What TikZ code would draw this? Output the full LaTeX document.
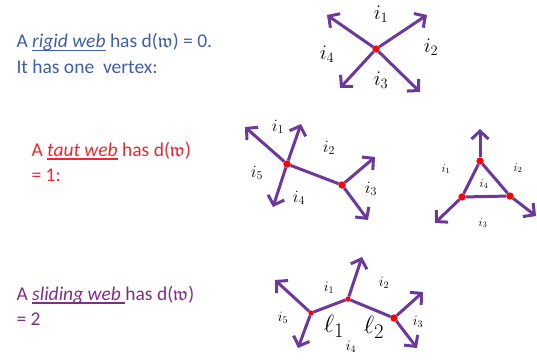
\documentclass[tikz,border=0pt]{standalone}
\usepackage{amsmath,amsfonts}
\usepackage{fontspec}
\setmainfont{Carlito}
\usetikzlibrary{arrows.meta}
\definecolor{webpurple}{RGB}{108,56,156}
\definecolor{rigidblue}{RGB}{62,94,170}
\definecolor{tautred}{RGB}{238,40,44}
\definecolor{slidepurple}{RGB}{128,44,138}
\newcommand{\webline}[1]{\leavevmode\setbox0=\hbox{#1}\rlap{\raisebox{-3.5pt}{\rule{\wd0}{1.5pt}}}\box0\relax}

\begin{document}
\begin{tikzpicture}[
    x=1pt, y=-1pt,
    txt/.style={anchor=base west, align=left, font=\fontsize{19.5}{25}\selectfont},
    vtx/.style={circle, fill=red, inner sep=0pt, minimum size=7pt},
    arr/.style={-{Straight Barb[length=8pt, width=17pt]}, line width=3pt, webpurple},
    seg/.style={line width=3pt, webpurple},
    lab/.style={inner sep=0pt, font=\fontsize{20.74}{21}\selectfont},
    slab/.style={inner sep=0pt, font=\fontsize{17.28}{17}\selectfont},
    tlab/.style={inner sep=0pt, font=\fontsize{12}{12}\selectfont},
    ilab/.style={inner sep=0pt, font=\fontsize{14.4}{14}\selectfont},
    llab/.style={inner sep=0pt, font=\fontsize{24.88}{25}\selectfont}
]
\useasboundingbox (0,0) rectangle (537,361);

% rigid web
\node[txt, text=rigidblue] (rigidtxt) at (13,73) {A \webline{\textit{rigid web}} has d($\mathfrak{w}$) = 0.\\It has one\ \ vertex:};
\node[vtx] (r) at (376,49) {};
\coordinate (r1) at (327,15);
\coordinate (r2) at (427,15);
\coordinate (r3) at (420,92);
\coordinate (r4) at (340,88);
\foreach \t in {r1,r2,r3,r4} \draw[arr] (r) -- (\t);
\node[vtx] at (r) {};
\node[lab] (ri1) at (381,14) {$i_1$};
\node[lab] (ri2) at (431,47) {$i_2$};
\node[lab] (ri3) at (381,80) {$i_3$};
\node[lab] (ri4) at (327,54) {$i_4$};

% taut web
\node[txt, text=tautred] (tauttxt) at (28,181) {A \webline{\textit{taut web}} has d($\mathfrak{w}$)\\= 1:};
\node[vtx] (ta) at (287,164) {};
\node[vtx] (tb) at (342,185) {};
\coordinate (ta1) at (245,127);
\coordinate (ta2) at (301,124);
\coordinate (ta3) at (273,207);
\coordinate (tb1) at (375,157);
\coordinate (tb2) at (368,220);
\draw[seg] (ta) -- (tb);
\foreach \t in {ta1,ta2,ta3} \draw[arr] (ta) -- (\t);
\foreach \t in {tb1,tb2} \draw[arr] (tb) -- (\t);
\node[vtx] at (ta) {};
\node[vtx] at (tb) {};
\node[slab] (ti1) at (278,127) {$i_1$};
\node[slab] (ti2) at (329,148) {$i_2$};
\node[slab] (ti3) at (371,189) {$i_3$};
\node[slab] (ti4) at (299,198) {$i_4$};
\node[slab] (ti5) at (257,173) {$i_5$};

% triangle
\node[vtx] (ua) at (480,161) {};
\node[vtx] (ub) at (462,197) {};
\node[vtx] (uc) at (510,196) {};
\coordinate (ua1) at (480,129);
\coordinate (ub1) at (435,223);
\coordinate (uc1) at (536,216);
\draw[seg] (ua) -- (ub) -- (uc) -- (ua);
\draw[arr] (ua) -- (ua1);
\draw[arr] (ub) -- (ub1);
\draw[arr] (uc) -- (uc1);
\foreach \v in {ua,ub,uc} \node[vtx] at (\v) {};
\node[tlab] (ui1) at (446,169) {$i_1$};
\node[tlab] (ui2) at (518,168) {$i_2$};
\node[tlab] (ui3) at (483,223) {$i_3$};
\node[tlab] (ui4) at (484,184) {$i_4$};

% sliding web
\node[txt, text=slidepurple] (slidetxt) at (13,325) {A \webline{\textit{sliding web}\ }has d($\mathfrak{w}$)\\= 2};
\node[vtx, minimum size=5pt] (sa) at (311,313) {};
\node[vtx, minimum size=5pt] (sb) at (348,299) {};
\node[vtx] (sc) at (394,318) {};
\coordinate (sa1) at (275,280);
\coordinate (sa2) at (298,348);
\coordinate (sb1) at (362,257);
\coordinate (sc1) at (423,292);
\coordinate (sc2) at (417,348);
\draw[seg] (sa) -- (sb) -- (sc);
\foreach \t in {sa1,sa2} \draw[arr] (sa) -- (\t);
\draw[arr] (sb) -- (sb1);
\foreach \t in {sc1,sc2} \draw[arr] (sc) -- (\t);
\node[vtx, minimum size=5pt] at (sa) {};
\node[vtx, minimum size=5pt] at (sb) {};
\node[vtx] at (sc) {};
\node[ilab] (si1) at (329,288) {$i_1$};
\node[ilab] (si2) at (384,283) {$i_2$};
\node[ilab] (si3) at (418,322) {$i_3$};
\node[ilab] (si4) at (351,347) {$i_4$};
\node[ilab] (si5) at (283,318) {$i_5$};
\node[llab] (sl1) at (334,326) {$\ell_1$};
\node[llab] (sl2) at (374,327) {$\ell_2$};
\end{tikzpicture}
\end{document}
